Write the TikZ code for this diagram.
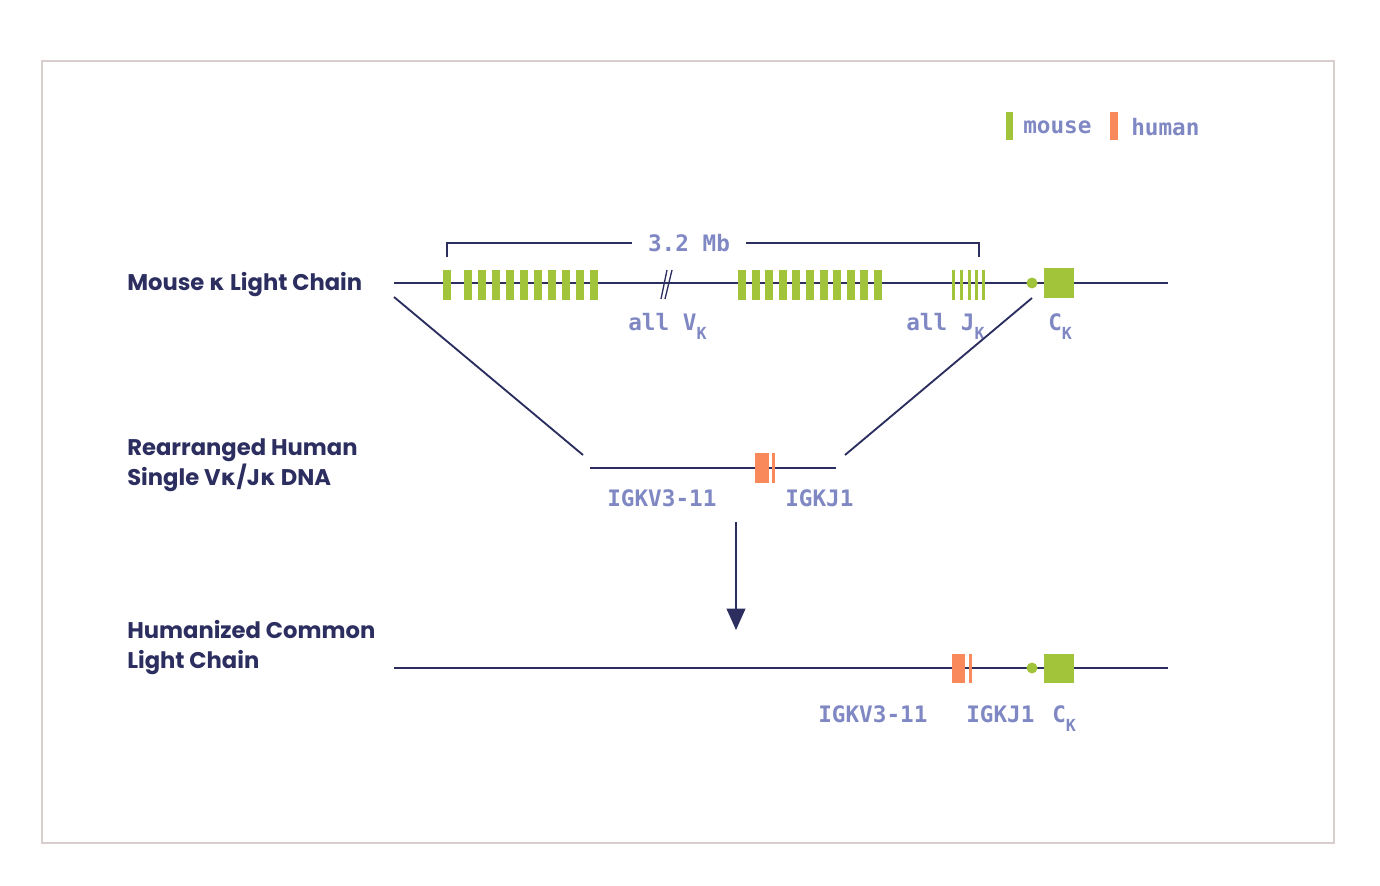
\documentclass[tikz,border=0pt]{standalone}
\usepackage{fontspec}
\setmainfont{Poppins}
\setmonofont{DejaVu Sans Mono}
\newfontfamily\kfont{DejaVu Sans}
\usetikzlibrary{arrows.meta}

\definecolor{navy}{HTML}{2B2E5F}
\definecolor{lavender}{HTML}{8088C4}
\definecolor{mousegreen}{HTML}{A2C43A}
\definecolor{humanorange}{HTML}{F9885B}
\definecolor{framegrey}{HTML}{D8CECE}

\newcommand{\kap}{\raisebox{-7pt}{\fontsize{12.5}{12.5}\selectfont K}}

\tikzset{
  chain/.style={draw=navy, line width=1.4pt},
  title/.style={anchor=base west, font=\bfseries\fontsize{17}{22.5}\selectfont, text=navy, align=left, inner sep=0pt},
  genelabel/.style={font=\ttfamily\bfseries\fontsize{17}{20}\selectfont, text=lavender, inner sep=0pt},
}

\begin{document}
\begin{tikzpicture}[x=0.75pt, y=-0.75pt]
\useasboundingbox (0,0) rectangle (1380,885);
\draw[framegrey, line width=1.2pt] (42,61) rectangle (1334,843);

% legend
\fill[mousegreen] (1006,112) rectangle (1013,140);
\node[genelabel, anchor=west] (legmouse) at (1023,127) {mouse};
\fill[humanorange] (1110,112) rectangle (1118,140);
\node[genelabel, anchor=west] (leghuman) at (1131,127) {human};

% mouse kappa chain
\node[title] (mousetitle) at (127,290) {Mouse {\kfont κ} Light Chain};
\coordinate (mouse-l) at (394,283);
\coordinate (mouse-r) at (1168,283);
\draw[chain] (mouse-l) -- (mouse-r);
\fill[mousegreen] (443,270) rectangle ++(8,30);
\foreach \i in {0,...,9}
  \fill[mousegreen] ({464+14*\i},270) rectangle ++(8,30);
\foreach \i in {0,...,10}
  \fill[mousegreen] ({738+13.6*\i},270) rectangle ++(8,30);
\foreach \x in {952,960,968,975,982}
  \fill[mousegreen] (\x,270) rectangle ++(2.5,30);
\draw[navy, line width=1pt] (661,299) -- (667,270) (665,299) -- (672,270);
\fill[mousegreen] (1032,283) circle (5.5);
\fill[mousegreen] (1044,268) rectangle (1074,298);

\node[genelabel, inner xsep=12pt] (size) at (689,243) {3.2 Mb};
\draw[navy, line width=1.2pt] (447,257) |- (size.west);
\draw[navy, line width=1.2pt] (size.east) -| (979,257);

\node[genelabel, anchor=base west] (allV) at (628,330) {all V\kap};
\node[genelabel, anchor=base west] (allJ) at (906,330) {all J\kap};
\node[genelabel, anchor=base west] (constM) at (1048,330) {C\kap};

% rearranged human V/J
\node[title] (humantitle) at (127,485) {Rearranged Human\\Single V{\kfont κ}/J{\kfont κ} DNA};
\coordinate (human-l) at (590,468);
\coordinate (human-r) at (836,468);
\draw[chain] (human-l) -- (human-r);
\fill[humanorange] (755,453) rectangle (769,483);
\fill[humanorange] (772,453) rectangle (775,483);
\node[genelabel, anchor=base west] (vH) at (607,506) {IGKV3-11};
\node[genelabel, anchor=base west] (jH) at (785,506) {IGKJ1};

\coordinate (cutL) at (394,297);
\coordinate (cutR) at (1032,298);
\draw[chain] (cutL) -- (583,455);
\draw[chain] (cutR) -- (845,455);

\coordinate (arrtop) at (736,522);
\coordinate (arrbot) at (736,630);
\draw[navy, line width=1.4pt, -{Triangle[length=16pt,width=14pt]}] (arrtop) -- (arrbot);

% humanized common light chain
\node[title] (commontitle) at (127,668) {Humanized Common\\Light Chain};
\coordinate (common-l) at (394,668);
\coordinate (common-r) at (1168,668);
\draw[chain] (common-l) -- (common-r);
\fill[humanorange] (952,654) rectangle (965,683);
\fill[humanorange] (969,654) rectangle (972,683);
\fill[mousegreen] (1032,668) circle (5.5);
\fill[mousegreen] (1044,654) rectangle (1074,683);
\node[genelabel, anchor=base west] (vC) at (818,722) {IGKV3-11};
\node[genelabel, anchor=base west] (jC) at (966,722) {IGKJ1};
\node[genelabel, anchor=base west] (constC) at (1052,722) {C\kap};
\end{tikzpicture}
\end{document}
